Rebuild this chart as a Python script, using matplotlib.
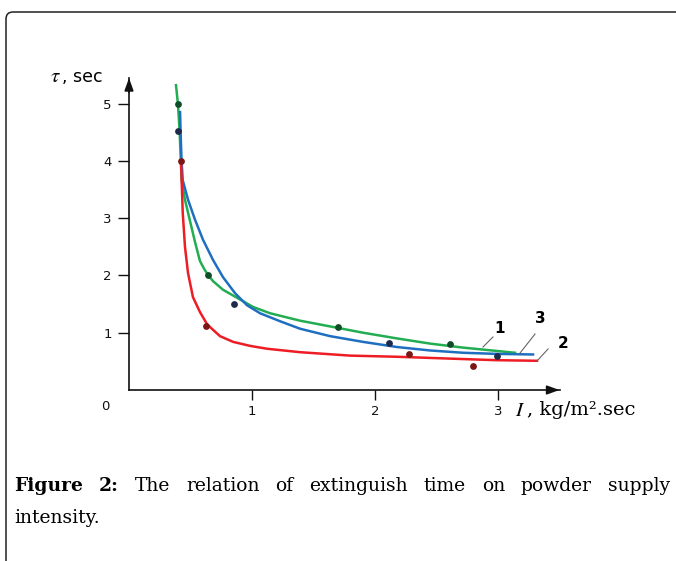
import matplotlib
matplotlib.use('Agg')
import matplotlib.pyplot as plt
from matplotlib.patches import FancyBboxPatch
from matplotlib.transforms import IdentityTransform

plt.rcParams['mathtext.fontset'] = 'stix'

# ---- data ----
# curve 1 (green)
c1_x = [0.382, 0.398, 0.411, 0.421, 0.428, 0.455, 0.496, 0.537, 0.577, 0.612, 0.642, 0.683,
        0.764, 0.878, 1.008, 1.146, 1.390, 1.634, 1.902, 2.179, 2.447, 2.715, 3.138]
c1_y = [5.32, 4.99, 4.54, 4.01, 3.66, 3.32, 2.95, 2.58, 2.25, 2.11, 2.01, 1.90,
        1.75, 1.61, 1.45, 1.34, 1.21, 1.11, 1.00, 0.90, 0.81, 0.74, 0.65]
# curve 3 (blue)
c3_x = [0.415, 0.419, 0.427, 0.437, 0.480, 0.537, 0.602, 0.683, 0.764, 0.862, 0.959,
        1.065, 1.228, 1.390, 1.634, 1.902, 2.179, 2.447, 2.715, 2.992, 3.285]
c3_y = [4.85, 4.54, 4.01, 3.66, 3.32, 2.97, 2.62, 2.27, 1.97, 1.69, 1.48,
        1.34, 1.20, 1.07, 0.94, 0.84, 0.75, 0.69, 0.65, 0.63, 0.62]
# curve 2 (red)
c2_x = [0.423, 0.428, 0.437, 0.455, 0.480, 0.520, 0.577, 0.634, 0.683, 0.740, 0.846,
        0.984, 1.122, 1.390, 1.797, 2.179, 2.447, 2.715, 2.992, 3.317]
c2_y = [4.00, 3.66, 3.09, 2.50, 2.04, 1.62, 1.36, 1.15, 1.05, 0.94, 0.84,
        0.77, 0.72, 0.66, 0.60, 0.58, 0.56, 0.54, 0.52, 0.51]
# measured points
p1_x = [0.40, 0.64, 1.70, 2.61]
p1_y = [5.00, 2.00, 1.10, 0.80]
p3_x = [0.40, 0.85, 2.11, 2.99]
p3_y = [4.52, 1.50, 0.82, 0.59]
p2_x = [0.42, 0.63, 2.28, 2.80]
p2_y = [4.00, 1.11, 0.63, 0.42]

x_ticks = [1, 2, 3]
y_ticks = [1, 2, 3, 4, 5]
curve_labels = ['1', '3', '2']

caption_bold = ['Figure', '2:']
caption_line1 = ['The', 'relation', 'of', 'extinguish', 'time', 'on', 'powder', 'supply']
caption_line2 = 'intensity.'

# ---- figure ----
W, H = 676, 561
fig = plt.figure(figsize=(W / 100, H / 100), dpi=100)
fig.patch.set_facecolor('white')

# frame with rounded corner
box = FancyBboxPatch((6, -40), 760, H - 12 + 40,
                     boxstyle='round,pad=0,rounding_size=7',
                     transform=IdentityTransform(), fill=False,
                     edgecolor='#222222', linewidth=1.1)
fig.patches.append(box)

ox, oy = 129, 390
ppx, ppy = 123.0, 57.3
xmax, ymax = 3.50, 5.445
ax = fig.add_axes([ox / W, (H - oy) / H, xmax * ppx / W, ymax * ppy / H])
ax.set_xlim(0, xmax)
ax.set_ylim(0, ymax)
for s in ['top', 'right']:
    ax.spines[s].set_visible(False)
for s in ['left', 'bottom']:
    ax.spines[s].set_linewidth(1.2)
    ax.spines[s].set_color('#111111')
ax.set_facecolor('none')

ax.set_xticks(x_ticks)
ax.set_yticks(y_ticks)
ax.tick_params(direction='out', length=7, width=1.0, colors='#111111',
               labelsize=9.5, pad=3.5)
ax.tick_params(axis='y', length=8, pad=4.5)

# arrow heads
arr = dict(arrowstyle='-|>,head_length=0.75,head_width=0.27', color='#111111',
           lw=1.2, shrinkA=0, shrinkB=0)
ax.annotate('', xy=(xmax, 0), xytext=(xmax - 0.1, 0), arrowprops=arr,
            annotation_clip=False)
ax.annotate('', xy=(0, ymax), xytext=(0, ymax - 0.25), arrowprops=arr,
            annotation_clip=False)

green, blue, red = '#22ad52', '#1f6fc0', '#ee1c24'
ax.plot(c1_x, c1_y, color=green, lw=1.8, clip_on=False, solid_joinstyle='round')
ax.plot(c3_x, c3_y, color=blue, lw=1.8, clip_on=False, solid_joinstyle='round')
ax.plot(c2_x, c2_y, color=red, lw=1.8, clip_on=False, solid_joinstyle='round')
ax.scatter(p1_x, p1_y, s=15, color='#0e4d28', zorder=5, clip_on=False)
ax.scatter(p3_x, p3_y, s=15, color='#1d2a4a', zorder=5, clip_on=False)
ax.scatter(p2_x, p2_y, s=15, color='#7a1616', zorder=5, clip_on=False)

# curve labels with leader lines
lead = dict(color='#666666', lw=0.8, clip_on=False)
ax.plot([2.878, 2.959], [0.75, 0.925], **lead)
ax.plot([3.179, 3.301], [0.645, 0.977], **lead)
ax.plot([3.317, 3.407], [0.506, 0.716], **lead)
ax.text(3.016, 1.08, curve_labels[0], fontsize=11, fontweight='bold',
        ha='center', va='center')
ax.text(3.341, 1.25, curve_labels[1], fontsize=11, fontweight='bold',
        ha='center', va='center')
ax.text(3.528, 0.82, curve_labels[2], fontsize=11, fontweight='bold',
        ha='center', va='center')

# origin label
fig.text(105 / W, 1 - 407 / H, '0', fontsize=9.5, ha='center', va='center',
         color='#111111')

renderer = fig.canvas.get_renderer()

# axis labels
sec = fig.text(103, H - 82, ', sec', fontsize=12.5, ha='right', va='baseline',
               transform=IdentityTransform())
sb = sec.get_window_extent(renderer)
fig.text(sb.x0 - 1, H - 82, r'$\tau$', fontsize=15, ha='right', va='baseline',
         transform=IdentityTransform())
fig.text(515 / W, 1 - 410 / H, r'$I$', fontsize=15, ha='left', va='center')
fig.text(527 / W, 1 - 410 / H, ', kg/m².sec', fontsize=14, ha='left', va='center',
         family='DejaVu Serif')

# caption, justified line 1
cap_fs = 13.5
left_px, right_px = 14, 670
base1 = H - 491
items = [(w, 'bold') for w in caption_bold] + [(w, 'normal') for w in caption_line1]
texts = []
widths = []
for w, wt in items:
    t = fig.text(0, 0, w, fontsize=cap_fs, fontweight=wt, family='DejaVu Serif',
                 ha='left', va='baseline', transform=IdentityTransform())
    bb = t.get_window_extent(renderer)
    texts.append(t)
    widths.append(bb.width)
gap = (right_px - left_px - sum(widths)) / (len(items) - 1)
x = left_px
for i, t in enumerate(texts):
    t.set_position((x, base1))
    x += widths[i] + gap
fig.text(left_px, H - 523, caption_line2, fontsize=cap_fs, family='DejaVu Serif',
         ha='left', va='baseline', transform=IdentityTransform())

fig.savefig('out.png', dpi=100)
